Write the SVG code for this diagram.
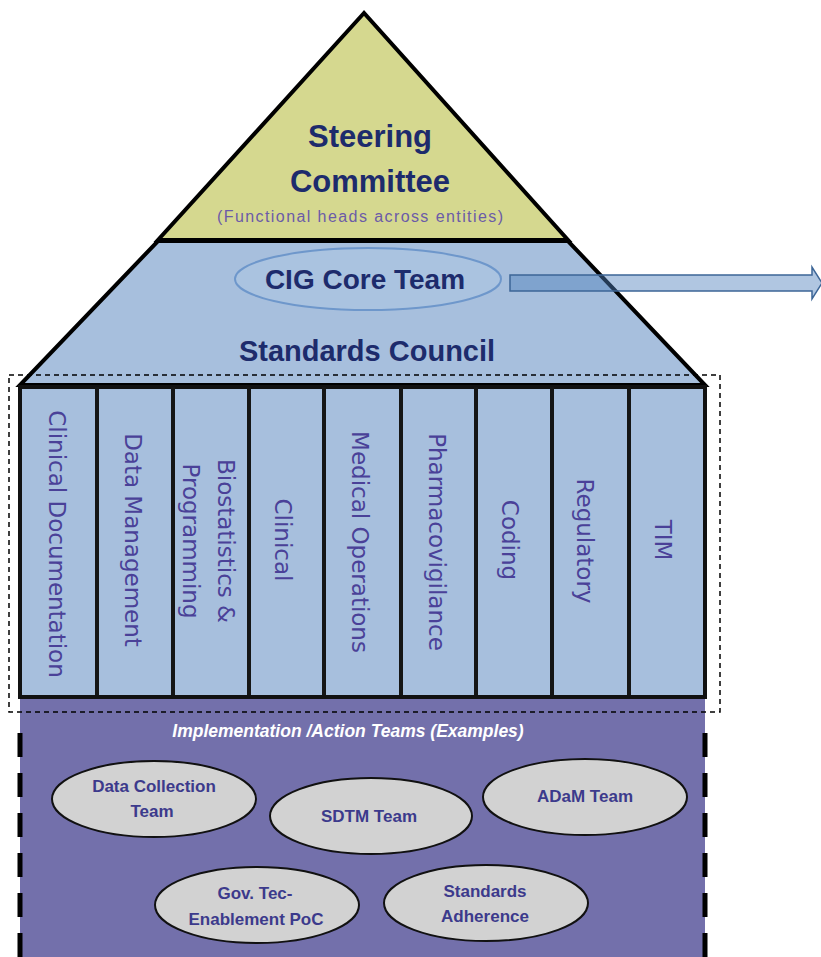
<svg xmlns="http://www.w3.org/2000/svg" width="821" height="957" viewBox="0 0 821 957">
<defs>
<style>
.head{font-family:"Liberation Sans",Arial,sans-serif;font-weight:bold;fill:#1d2b6c;text-anchor:middle}
.col{font-family:"DejaVu Sans",Verdana,sans-serif;font-size:23px;fill:#4a4198;text-anchor:middle;dominant-baseline:central}
.team{font-family:"Liberation Sans",Arial,sans-serif;font-weight:bold;font-size:17px;fill:#3c3a8c;text-anchor:middle}
.oval{fill:#d2d2d2;stroke:#111;stroke-width:2}
.divider{stroke:#151515;stroke-width:4}
.edge{stroke:#000;stroke-width:5;stroke-dasharray:24 16}
</style>
</defs>
<rect width="821" height="957" fill="#ffffff"/>

<g id="standards-council">
<polygon points="158,241 568,241 705,385 20,385" fill="#a7bfdd" stroke="#000" stroke-width="4" stroke-linejoin="miter"/>
<text class="head" x="367" y="361" font-size="29">Standards Council</text>
</g>

<g id="steering-committee">
<polygon points="364,13 158,240 568,240" fill="#d5d88f" stroke="#000" stroke-width="4" stroke-linejoin="miter"/>
<text class="head" x="370" y="147" font-size="31">Steering</text>
<text class="head" x="370" y="192" font-size="31">Committee</text>
<text x="360" y="222" font-family="'Liberation Sans',Arial,sans-serif" font-size="16" fill="#6b5ba8" text-anchor="middle" textLength="286" lengthAdjust="spacing">(Functional heads across entities)</text>
</g>

<g id="cig-core-team">
<ellipse cx="368" cy="279" rx="133" ry="31" fill="#aac3e0" stroke="#6e97cb" stroke-width="2"/>
<text class="head" x="365" y="289" font-size="28">CIG Core Team</text>
</g>

<g id="functions">
<rect x="20" y="387" width="685" height="310" fill="#a7bfdd" stroke="#111" stroke-width="4"/>
<line class="divider" x1="97" y1="387" x2="97" y2="697"/>
<line class="divider" x1="173" y1="387" x2="173" y2="697"/>
<line class="divider" x1="249" y1="387" x2="249" y2="697"/>
<line class="divider" x1="324" y1="387" x2="324" y2="697"/>
<line class="divider" x1="401" y1="387" x2="401" y2="697"/>
<line class="divider" x1="476" y1="387" x2="476" y2="697"/>
<line class="divider" x1="552" y1="387" x2="552" y2="697"/>
<line class="divider" x1="629" y1="387" x2="629" y2="697"/>
<g id="col-clinical-documentation"><text class="col" transform="translate(57,544) rotate(90)">Clinical Documentation</text></g>
<g id="col-data-management"><text class="col" transform="translate(133,540) rotate(90)">Data Management</text></g>
<g id="col-biostatistics"><text class="col" transform="translate(209,541) rotate(90)"><tspan x="0" y="-17">Biostatistics &amp;</tspan><tspan x="0" y="18">Programming</tspan></text></g>
<g id="col-clinical"><text class="col" transform="translate(283,540) rotate(90)">Clinical</text></g>
<g id="col-medical-operations"><text class="col" transform="translate(360,542) rotate(90)">Medical Operations</text></g>
<g id="col-pharmacovigilance"><text class="col" transform="translate(437,542) rotate(90)">Pharmacovigilance</text></g>
<g id="col-coding"><text class="col" transform="translate(510,540) rotate(90)">Coding</text></g>
<g id="col-regulatory"><text class="col" transform="translate(585,541) rotate(90)">Regulatory</text></g>
<g id="col-tim"><text class="col" transform="translate(663,540) rotate(90)">TIM</text></g>
</g>

<g id="implementation-teams">
<rect x="20" y="699" width="685" height="262" fill="#7370ab"/>
<line class="edge" x1="20" y1="733" x2="20" y2="957"/>
<line class="edge" x1="705" y1="733" x2="705" y2="957"/>
<line x1="20" y1="697" x2="705" y2="697" stroke="#111" stroke-width="4"/>
<text x="348" y="737" font-family="'Liberation Sans',Arial,sans-serif" font-size="17.5" font-weight="bold" font-style="italic" fill="#ffffff" text-anchor="middle">Implementation /Action Teams (Examples)</text>
</g>

<rect id="functions-boundary" x="9" y="375" width="711" height="337" fill="none" stroke="#000" stroke-width="1.5" stroke-dasharray="5 4"/>

<g id="team-data-collection">
<ellipse class="oval" cx="154" cy="799" rx="102" ry="38"/>
<text class="team" x="154" y="792">Data Collection</text>
<text class="team" x="152" y="817">Team</text>
</g>
<g id="team-sdtm">
<ellipse class="oval" cx="371" cy="816" rx="101" ry="38"/>
<text class="team" x="369" y="822">SDTM Team</text>
</g>
<g id="team-adam">
<ellipse class="oval" cx="585" cy="797" rx="102" ry="38"/>
<text class="team" x="585" y="802">ADaM Team</text>
</g>
<g id="team-gov-tec">
<ellipse class="oval" cx="257" cy="905" rx="102" ry="38"/>
<text class="team" x="255" y="899">Gov. Tec-</text>
<text class="team" x="256" y="925">Enablement PoC</text>
</g>
<g id="team-standards-adherence">
<ellipse class="oval" cx="486" cy="903" rx="102" ry="38"/>
<text class="team" x="485" y="897">Standards</text>
<text class="team" x="485" y="922">Adherence</text>
</g>

<g id="connectors">
<polygon points="510,275 812,275 812,267 822,283 812,299 812,291 510,291" fill="#4f81bd" fill-opacity="0.45" stroke="#3d6697" stroke-width="1.5"/>
</g>
</svg>
